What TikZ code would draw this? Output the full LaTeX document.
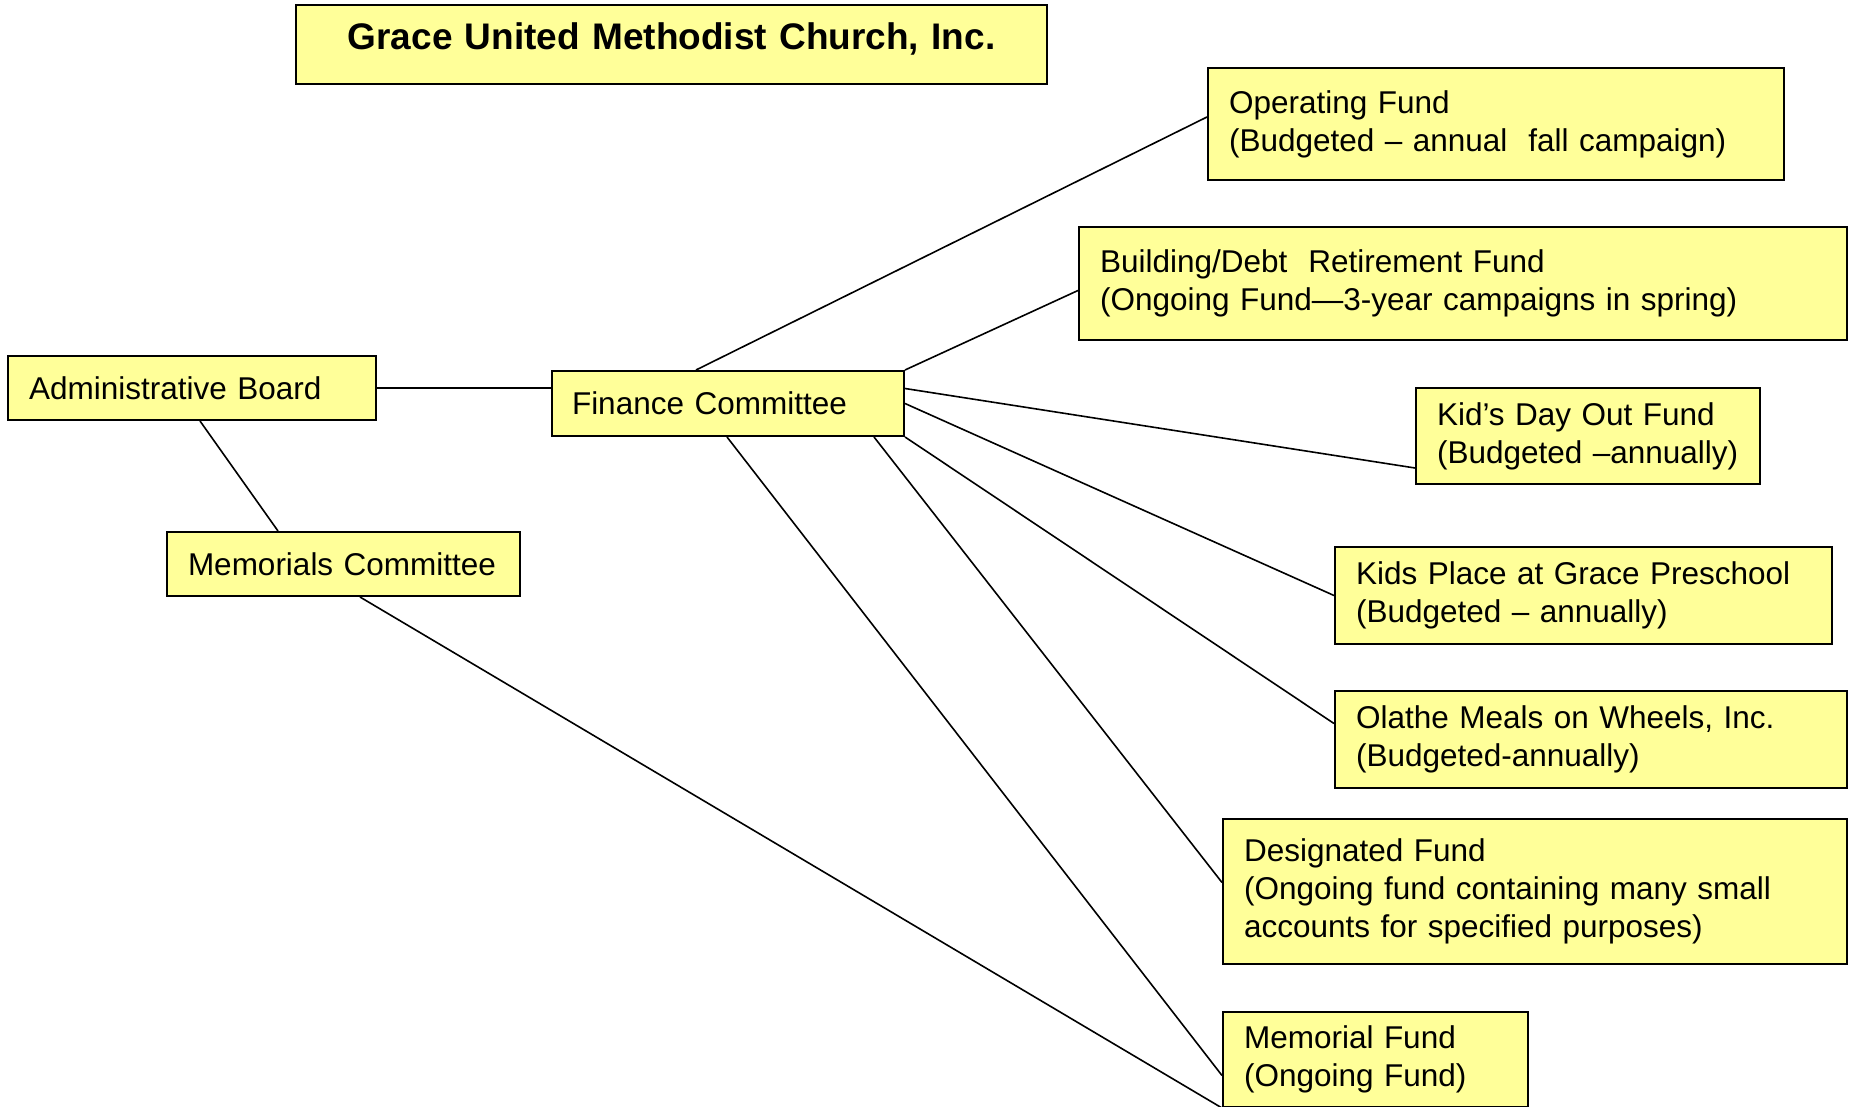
\documentclass[tikz,border=0pt]{standalone}
\usepackage{fontspec}
\setmainfont{Liberation Sans}
\usepackage{xcolor}
\definecolor{fundyellow}{HTML}{FFFF99}
\hyphenpenalty=10000
\exhyphenpenalty=10000

\begin{document}
\begin{tikzpicture}[x=1pt,y=-1pt]

\tikzset{box/.style = {draw, fill=fundyellow, line width=2pt, anchor=north west, align=left,
  inner xsep=21pt, inner ysep=0pt, font=\fontsize{31.5}{38}\selectfont}}
\tikzset{edge/.style = {-, line width=1.6pt}}
\useasboundingbox (0,0) rectangle (1850,1107);

\node[box, text width=709pt, minimum height=79pt, align=center, text depth=16pt,
  font=\bfseries\fontsize{37}{44}\selectfont] (title) at (295,4) {Grace United Methodist Church, Inc.};
\node[box, text width=534pt, minimum height=112pt] (op) at (1207,67) {Operating Fund\\(Budgeted -- annual\ \ fall campaign)};
\node[box, text width=726pt, minimum height=113pt] (bld) at (1078,226) {Building/Debt\ \ Retirement Fund\\(Ongoing Fund---3-year campaigns in spring)};
\node[box, text width=326pt, minimum height=64pt] (admin) at (7,355) {Administrative Board};
\node[box, text width=312pt, minimum height=65pt, inner xsep=20pt] (fin) at (551,370) {Finance Committee};
\node[box, text width=302pt, minimum height=96pt] (kdo) at (1415,387) {Kid’s Day Out Fund\\(Budgeted --annually)};
\node[box, text width=311pt, minimum height=64pt] (mem) at (166,531) {Memorials Committee};
\node[box, text width=455pt, minimum height=97pt] (kp) at (1334,546) {Kids Place at Grace Preschool\\(Budgeted -- annually)};
\node[box, text width=470pt, minimum height=97pt] (ol) at (1334,690) {Olathe Meals on Wheels, Inc.\\(Budgeted-annually)};
\node[box, text width=582pt, minimum height=145pt] (des) at (1222,818) {Designated Fund\\(Ongoing fund containing many small\\accounts for specified purposes)};
\node[box, text width=263pt, minimum height=95pt] (mf) at (1222,1011) {Memorial Fund\\(Ongoing Fund)};

%edges
\draw[edge] (admin.east) -- (admin.east -| fin.west);
\draw[edge] ([xshift=193pt]admin.south west) -- ([xshift=112pt]mem.north west);
\draw[edge] ([xshift=145pt]fin.north west) -- ([yshift=7pt]op.west);
\draw[edge] (fin.north east) -- ([yshift=-7pt]bld.west);
\draw[edge] ([yshift=15pt]fin.east) -- ([yshift=-32pt]kdo.west);
\draw[edge] (fin.east) -- (kp.west);
\draw[edge] (fin.south east) -- ([yshift=16pt]ol.west);
\draw[edge] ([xshift=-31pt]fin.south east) -- ([yshift=9pt]des.west);
\draw[edge] ([xshift=176pt]fin.south west) -- ([yshift=-16pt]mf.west);
\draw[edge] ([xshift=194pt]mem.south west) -- (mf.south west);
\end{tikzpicture}
\end{document}
